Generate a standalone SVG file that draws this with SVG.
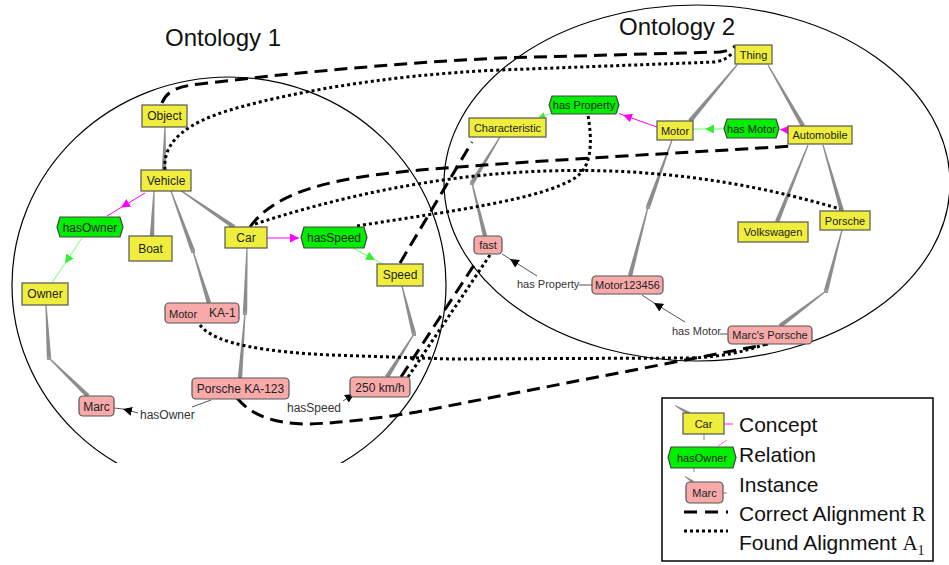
<svg xmlns="http://www.w3.org/2000/svg" width="949" height="565" viewBox="0 0 949 565">
<defs>
<style>
.bg{fill:#ffffff}
.ell{fill:none;stroke:#000;stroke-width:1.2}
.title{font-family:"Liberation Sans",Arial,sans-serif;font-size:24px;fill:#111}
.con{fill:#f0ee3c;stroke:#555;stroke-width:1.2}
.rel{fill:#00ee00;stroke:#444;stroke-width:1.2}
.ins{fill:#f8aaaa;stroke:#555;stroke-width:1.2}
.t12{font-family:"Liberation Sans",Arial,sans-serif;font-size:12px;fill:#222;text-anchor:middle}
.t11{font-family:"Liberation Sans",Arial,sans-serif;font-size:11px;fill:#222;text-anchor:middle}
.lbl12{font-family:"Liberation Sans",Arial,sans-serif;font-size:12px;fill:#333}
.lbl11{font-family:"Liberation Sans",Arial,sans-serif;font-size:11px;fill:#333}
.tree{fill:#8c8c8c}
.sq{fill:#999}
.mag{stroke:#ff00ff;stroke-width:1;fill:none}
.grn{stroke:#66ff66;stroke-width:1;fill:none}
.iedge{stroke:#555;stroke-width:1;fill:none}
.cor{fill:none;stroke:#000;stroke-width:3;stroke-dasharray:13,7}
.fnd{fill:none;stroke:#000;stroke-width:3;stroke-dasharray:3,3}
.leg{font-family:"Liberation Sans",Arial,sans-serif;font-size:21px;fill:#111}
.serif{font-family:"Liberation Serif","Times New Roman",serif}
</style>
<marker id="ab" viewBox="0 0 10 10" refX="10" refY="5" markerWidth="9" markerHeight="9" markerUnits="userSpaceOnUse" orient="auto"><path d="M0,0 L10,5 L0,10 z" fill="#000"/></marker>
<marker id="am" viewBox="0 0 10 10" refX="10" refY="5" markerWidth="9" markerHeight="9" markerUnits="userSpaceOnUse" orient="auto"><path d="M0,0 L10,5 L0,10 z" fill="#ff00ff"/></marker>
<marker id="ag" viewBox="0 0 10 10" refX="10" refY="5" markerWidth="9" markerHeight="9" markerUnits="userSpaceOnUse" orient="auto"><path d="M0,0 L10,5 L0,10 z" fill="#33ee33"/></marker>
<marker id="ag6" viewBox="0 0 10 10" refX="10" refY="5" markerWidth="6" markerHeight="6" markerUnits="userSpaceOnUse" orient="auto"><path d="M0,0 L10,5 L0,10 z" fill="#33ee33"/></marker>
<clipPath id="clip1"><rect x="0" y="0" width="949" height="463"/></clipPath>
</defs>
<rect class="bg" x="0" y="0" width="949" height="565"/>

<g id="ontologies">
<ellipse class="ell" cx="229" cy="285" rx="217" ry="208" clip-path="url(#clip1)"/>
<ellipse class="ell" cx="697" cy="183" rx="253" ry="178"/>
<text class="title" x="165" y="46">Ontology 1</text>
<text class="title" x="619" y="35">Ontology 2</text>
</g>

<g id="connectors">
<!-- taxonomy edges -->
<polygon class="tree" points="165.6,127 166.2,170 161.8,170 164.4,127"/>
<polygon class="tree" points="154.6,191 154.2,236 149.8,236 153.4,191"/>
<polygon class="tree" points="179.66,190.49 232.76,228.81 235.24,225.19 180.34,189.51"/>
<polygon class="tree" points="170.44,191.21 190.93,251.76 195.07,250.24 171.56,190.79"/>
<polygon class="tree" points="192.43,251.18 206.9,303.65 211.1,302.35 193.57,250.82"/>
<rect class="sq" x="191" y="249" width="4" height="4"/>
<polygon class="tree" points="45.4,305 46.8,358 51.2,358 46.6,305"/>
<polygon class="tree" points="48.58,358.43 86.47,397.58 89.53,394.42 49.42,357.57"/>
<rect class="sq" x="47" y="356" width="4" height="4"/>
<polygon class="tree" points="246.4,248 242.8,313 247.2,313 247.6,248"/>
<polygon class="tree" points="244.4,313 237.8,378 242.2,378 245.6,313"/>
<rect class="sq" x="243" y="311" width="4" height="4"/>
<polygon class="tree" points="401.42,286.15 411.87,334.53 416.13,333.47 402.58,285.85"/>
<polygon class="tree" points="413.49,333.68 385.14,375.83 388.86,378.17 414.51,334.32"/>
<rect class="sq" x="412" y="332" width="4" height="4"/>
<polygon class="tree" points="736.54,64.61 688.31,119.59 691.69,122.41 737.46,65.39"/>
<polygon class="tree" points="767.48,65.3 801.09,127.1 804.91,124.9 768.52,64.7"/>
<polygon class="tree" points="807.44,144.78 774.96,221.18 779.04,222.82 808.56,145.22"/>
<polygon class="tree" points="822.42,145.17 839.89,211.61 844.11,210.39 823.58,144.83"/>
<polygon class="tree" points="499.49,136.69 470.12,181.86 473.88,184.14 500.51,137.31"/>
<polygon class="tree" points="471.42,183.14 482.86,236.52 487.14,235.48 472.58,182.86"/>
<rect class="sq" x="470" y="181" width="4" height="4"/>
<polygon class="tree" points="671.44,139.8 645.93,206.26 650.07,207.74 672.56,140.2"/>
<polygon class="tree" points="647.42,206.85 627.87,275.45 632.13,276.55 648.58,207.15"/>
<rect class="sq" x="646" y="205" width="4" height="4"/>
<polygon class="tree" points="841.42,229.85 823.87,290.44 828.13,291.56 842.58,230.15"/>
<polygon class="tree" points="825.64,290.52 778.67,324.25 781.33,327.75 826.36,291.48"/>
<rect class="sq" x="824" y="289" width="4" height="4"/>

<!-- relation edges -->
<line class="mag" x1="145" y1="193" x2="121" y2="207.5" marker-end="url(#am)"/>
<line class="mag" x1="121" y1="207.5" x2="107" y2="216"/>
<line class="grn" x1="82" y1="238" x2="65" y2="263.5" marker-end="url(#ag)"/>
<line class="grn" x1="65" y1="263.5" x2="52" y2="283"/>
<line class="mag" x1="267" y1="238" x2="299" y2="238" marker-end="url(#am)"/>
<line class="grn" x1="353" y1="248" x2="375" y2="260" marker-end="url(#ag)"/>
<line class="grn" x1="375" y1="260" x2="383" y2="264"/>
<line class="mag" x1="657" y1="127" x2="623" y2="115" marker-end="url(#am)"/>
<line class="mag" x1="623" y1="115" x2="619" y2="113.5"/>
<line class="grn" x1="552" y1="113" x2="539" y2="117" marker-end="url(#ag6)"/>
<line class="mag" x1="788" y1="130" x2="780" y2="129.5" marker-end="url(#am)"/>
<line class="grn" x1="724" y1="129" x2="705" y2="129" marker-end="url(#ag)"/>
<line class="grn" x1="705" y1="129" x2="693" y2="129"/>

<!-- instance edges -->
<line class="iedge" x1="192" y1="407" x2="211" y2="400"/>
<line class="iedge" x1="138" y1="413" x2="123" y2="409" marker-end="url(#ab)"/>
<line class="iedge" x1="123" y1="409" x2="114" y2="408"/>
<line class="iedge" x1="343" y1="401" x2="354" y2="394" marker-end="url(#ab)"/>
<line class="iedge" x1="592" y1="285" x2="579" y2="285"/>
<line class="iedge" x1="537" y1="276" x2="510" y2="259" marker-end="url(#ab)"/>
<line class="iedge" x1="510" y1="259" x2="502" y2="254"/>
<line class="iedge" x1="728" y1="334" x2="720" y2="334"/>
<line class="iedge" x1="685" y1="322" x2="654" y2="303" marker-end="url(#ab)"/>
<line class="iedge" x1="654" y1="303" x2="642" y2="295"/>
<text class="lbl12" x="140" y="419">hasOwner</text>
<text class="lbl12" x="287" y="412">hasSpeed</text>
<text class="lbl11" x="517" y="288">has Property</text>
<text class="lbl11" x="672" y="335">has Motor</text>

<!-- alignments: correct (dashed) -->
<path class="cor" d="M162,103 C167,90 180,86 200,84 C300,72 400,63 500,58 L720,52 Q730,51 735,46"/>
<path class="cor" d="M250,227 C275,192 330,178 420,170 C540,160 700,152 793,146"/>
<path class="cor" d="M400,263 L472,142"/>
<path class="cor" d="M401,377 L476,262"/>
<path class="cor" d="M237,398 C252,416 275,424 310,424 C340,423 380,418 417,412 L768,344"/>
<!-- alignments: found (dotted) -->
<path class="fnd" d="M165,170 C162,140 190,122 230,110 C280,95 380,75 500,70 L715,62 Q727,60 733,52"/>
<path class="fnd" d="M255,224 Q560,125 840,209"/>
<path class="fnd" d="M357,226 C450,211 540,200 575,178 C593,166 592,140 588,115"/>
<path class="fnd" d="M200,325 C215,345 270,352 330,355 L450,359 L690,358 C720,357 745,352 765,344"/>
<path class="fnd" d="M408,377 L490,255"/>
</g>

<g id="n-object"><rect class="con" x="142" y="105" width="45" height="22"/><text class="t12" x="164.5" y="120">Object</text></g>
<g id="n-vehicle"><rect class="con" x="141" y="170" width="50" height="21"/><text class="t12" x="166" y="185">Vehicle</text></g>
<g id="n-hasowner"><path class="rel" d="M60,217 H120 L123,227 L120,237 H60 L57,227 Z"/><text class="t12" x="90" y="231.5">hasOwner</text></g>
<g id="n-boat"><rect class="con" x="129" y="236" width="43" height="25"/><text class="t12" x="150.5" y="253">Boat</text></g>
<g id="n-owner"><rect class="con" x="22" y="283" width="46" height="22"/><text class="t12" x="45" y="298">Owner</text></g>
<g id="n-car"><rect class="con" x="225" y="227" width="42" height="21"/><text class="t12" x="246" y="242">Car</text></g>
<g id="n-hasspeed"><path class="rel" d="M304,227 H364 L367,237.5 L364,248 H304 L301,237.5 Z"/><text class="t12" x="334" y="242">hasSpeed</text></g>
<g id="n-speed"><rect class="con" x="377" y="264" width="46" height="22"/><text class="t12" x="400" y="279">Speed</text></g>
<g id="n-motorka1"><rect class="ins" x="165" y="303" width="74" height="20" rx="4"/><text class="lbl11" x="169" y="318" style="fill:#222">Motor</text><text class="lbl12" x="209" y="317" style="fill:#222">KA-1</text></g>
<g id="n-porscheka123"><rect class="ins" x="192" y="378" width="97" height="21" rx="4"/><text class="t12" x="240.5" y="393">Porsche KA-123</text></g>
<g id="n-250kmh"><rect class="ins" x="350" y="377" width="60" height="20" rx="4"/><text class="t12" x="380" y="391.5">250 km/h</text></g>
<g id="n-marc"><rect class="ins" x="79" y="396" width="35" height="20" rx="4"/><text class="t12" x="96.5" y="410.5">Marc</text></g>

<g id="n-thing"><rect class="con" x="735" y="45" width="37" height="19"/><text class="t11" x="753.5" y="58.5">Thing</text></g>
<g id="n-motor"><rect class="con" x="657" y="121" width="36" height="19"/><text class="t11" x="675" y="134.5">Motor</text></g>
<g id="n-hasmotor"><path class="rel" d="M727,119 H776 L779,128.5 L776,138 H727 L724,128.5 Z"/><text class="t11" x="751.5" y="132.5">has Motor</text></g>
<g id="n-automobile"><rect class="con" x="788" y="126" width="64" height="18"/><text class="t11" x="820" y="139">Automobile</text></g>
<g id="n-volkswagen"><rect class="con" x="738" y="222" width="70" height="20"/><text class="t11" x="773" y="236">Volkswagen</text></g>
<g id="n-porsche"><rect class="con" x="820" y="211" width="50" height="19"/><text class="t11" x="845" y="224.5">Porsche</text></g>
<g id="n-hasproperty"><path class="rel" d="M552,96 H616 L619,105 L616,114 H552 L549,105 Z"/><text class="t11" x="584" y="109">has Property</text></g>
<g id="n-characteristic"><rect class="con" x="469" y="118" width="77" height="19"/><text class="t11" x="507.5" y="131.5">Characteristic</text></g>
<g id="n-fast"><rect class="ins" x="474" y="236" width="28" height="18" rx="4"/><text class="t11" x="488" y="249">fast</text></g>
<g id="n-motor123456"><rect class="ins" x="592" y="276" width="71" height="18" rx="4"/><text class="t11" x="627.5" y="289">Motor123456</text></g>
<g id="n-marcsporsche"><rect class="ins" x="728" y="326" width="84" height="18" rx="4"/><text class="t11" x="770" y="339">Marc's Porsche</text></g>

<g id="legend">
<rect x="662" y="398" width="271" height="163" fill="#fff" stroke="#000" stroke-width="1.5"/>
<polygon class="tree" points="675,405 690,412 688,415 675,406"/>
<line x1="724" y1="424" x2="733" y2="424" stroke="#ff66ff" stroke-width="1.5"/>
<line x1="704" y1="434" x2="704" y2="440" stroke="#888" stroke-width="1"/>
<rect class="con" x="683" y="413" width="41" height="21"/>
<text class="t11" x="703.5" y="427.5">Car</text>
<line x1="718" y1="446" x2="727" y2="440" stroke="#ff66ff" stroke-width="1"/>
<line x1="694" y1="468" x2="694" y2="472" stroke="#888" stroke-width="1"/>
<path class="rel" d="M671,447 H733 L736,457.5 L733,468 H671 L668,457.5 Z"/>
<text class="t11" x="702" y="461.5">hasOwner</text>
<polygon class="tree" points="685,476 694,481 692,483 685,477"/>
<line x1="723" y1="493" x2="727" y2="493" stroke="#888" stroke-width="1"/>
<rect class="ins" x="686" y="482" width="37" height="21" rx="4"/>
<text class="t11" x="704.5" y="496.5">Marc</text>
<line x1="684" y1="512" x2="728" y2="512" stroke="#000" stroke-width="3" stroke-dasharray="13,8"/>
<line x1="684" y1="531" x2="728" y2="531" stroke="#000" stroke-width="3" stroke-dasharray="3,3"/>
<text class="leg" x="739" y="432">Concept</text>
<text class="leg" x="739" y="462">Relation</text>
<text class="leg" x="739" y="492">Instance</text>
<text class="leg" x="739" y="521">Correct Alignment <tspan class="serif">R</tspan></text>
<text class="leg" x="739" y="550">Found Alignment <tspan class="serif">A</tspan><tspan class="serif" font-size="14" dy="5">1</tspan></text>
</g>
</svg>
